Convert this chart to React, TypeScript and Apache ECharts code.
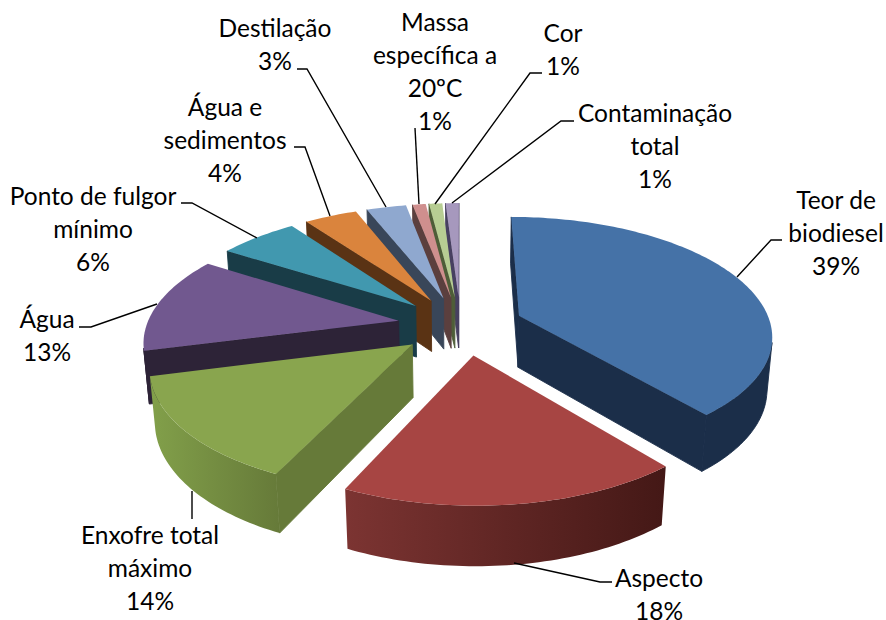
import React, { useEffect, useRef } from "react";
import * as echarts from "echarts";

const categories = [
  "Teor de\nbiodiesel",
  "Aspecto",
  "Enxofre total\nmáximo",
  "Água",
  "Ponto de fulgor\nmínimo",
  "Água e\nsedimentos",
  "Destilação",
  "Massa\nespecífica a\n20ºC",
  "Cor",
  "Contaminação\ntotal",
];
const values = [39, 18, 14, 13, 6, 4, 3, 1, 1, 1];

// [top, radial wall, outer wall left, outer wall right]
const palette = [
  ["#4572A7", "#1B2E49", "#1B2E49", "#1B2E49"],
  ["#A74543", "#4A1B19", "#7C3432", "#441816"],
  ["#89A54E", "#667A39", "#82A04A", "#667A39"],
  ["#71588F", "#2D2337", "#2D2337", "#2D2337"],
  ["#4198AF", "#193C47", "#193C47", "#193C47"],
  ["#DA843D", "#5A3314", "#5A3314", "#5A3314"],
  ["#8FA8CF", "#394659", "#394659", "#394659"],
  ["#CF8F8E", "#5B3F3E", "#5B3F3E", "#5B3F3E"],
  ["#B7CD93", "#4E5D38", "#4E5D38", "#4E5D38"],
  ["#A698BD", "#474060", "#474060", "#474060"],
];

// label centre x, first-line centre y
const labelPlacement = [
  [836, 200], [659, 578], [150, 535], [47, 319], [93, 196],
  [225, 107], [275, 28], [435, 22], [563, 33], [655, 113],
];
const leaderLines = [
  [[782, 240], [771, 240], [737, 277]],
  [[612, 582], [600, 582], [514, 563]],
  [[192, 519], [192, 491]],
  [[79, 327], [91, 327], [157, 304]],
  [[181, 203], [192, 203], [257, 238]],
  [[294, 147], [305, 147], [330, 216]],
  [[297, 69], [307, 69], [386, 207]],
  [[415, 128], [419, 204]],
  [[542, 73], [530, 73], [435, 204]],
  [[574, 121], [561, 121], [452, 203]],
];

// projection of the pie's plane
const CX = 460.5, CY = 325.4, SX = 252, SY = 116.7, PERSP = 0.154, EXPLODE = 0.25, HEIGHT = 53, PERSP_Z = 0.017;
// small extra sideways shift of a slice in the pie's plane
const sliceShiftU = [0, 0.018, 0.006, 0, 0, 0, 0, 0, 0, 0];
const LINE_HEIGHT = 32.7;
const FONT = "Lato, Carlito, sans-serif";
const FONT_SIZE = 24.5;

const project = (u: number, v: number, z: number): number[] => {
  const w = 1 + PERSP * v + PERSP_Z * z;
  return [CX + (SX * u) / w, CY - (SY * v - HEIGHT * z) / w];
};
const area = (pts: number[][]) => {
  let s = 0;
  pts.forEach((p, i) => {
    const q = pts[(i + 1) % pts.length];
    s += p[0] * q[1] - q[0] * p[1];
  });
  return s / 2;
};

const total = values.reduce((a, b) => a + b, 0);
const starts: number[] = [];
values.reduce((acc, v, i) => {
  starts[i] = acc;
  return acc + v;
}, 0);
const drawRank = values
  .map((v, i) => ({ i, c: Math.cos(((starts[i] + v / 2) / total) * 2 * Math.PI) }))
  .sort((a, b) => b.c - a.c)
  .reduce((m: number[], e, r) => {
    m[e.i] = r;
    return m;
  }, []);

const renderSlice = (params: any, api: any) => {
  const i = params.dataIndex;
  const v = api.value(0) as number;
  const a0 = (starts[i] / total) * 2 * Math.PI;
  const a1 = ((starts[i] + v) / total) * 2 * Math.PI;
  const mid = (a0 + a1) / 2;
  const u0 = EXPLODE * Math.sin(mid) + sliceShiftU[i];
  const v0 = EXPLODE * Math.cos(mid);
  const z2 = 10 * (drawRank[i] + 1);
  const [top, radial, wallL, wallR] = palette[i];
  const steps = Math.max(6, Math.round(v * 3));
  const pt = (a: number, z: number) => project(u0 + Math.sin(a), v0 + Math.cos(a), z);
  const arcAngles = Array.from({ length: steps + 1 }, (_, k) => a0 + ((a1 - a0) * k) / steps);
  const apexT = project(u0, v0, 0);
  const apexB = project(u0, v0, 1);
  const topPts = [apexT, ...arcAngles.map((a) => pt(a, 0))];
  const topSign = Math.sign(area(topPts));
  const children: any[] = [];
  const face = (pts: number[][], fill: any, stroke: string | undefined, z: number) =>
    children.push({
      type: "polygon",
      shape: { points: pts },
      style: stroke ? { fill, stroke, lineWidth: 0.9 } : { fill },
      z2: z,
    });

  // outer wall
  let run: number[] = [];
  const flush = () => {
    if (!run.length) return;
    const as = [...run, run[run.length - 1] + (a1 - a0) / steps];
    const pts = [...as.map((a) => pt(a, 0)), ...as.slice().reverse().map((a) => pt(a, 1))];
    if (wallL === wallR) {
      face(pts, wallL, wallL, z2);
    } else {
      const fill = new echarts.graphic.LinearGradient(0, 0, 1, 0, [
        { offset: 0, color: wallL },
        { offset: 1, color: wallR },
      ]);
      face(pts, fill, undefined, z2);
    }
    run = [];
  };
  for (let k = 0; k < steps; k++) {
    const a = arcAngles[k];
    const b = arcAngles[k + 1];
    const q = [pt(a, 0), pt(b, 0), pt(b, 1), pt(a, 1)];
    if (Math.sign(area(q)) !== topSign) run.push(a);
    else flush();
  }
  flush();

  // radial walls, only when they face the viewer
  const wallA = [apexT, pt(a0, 0), pt(a0, 1), apexB];
  if (Math.sign(area(wallA)) !== topSign) face(wallA, radial, radial, z2 + 1);
  const wallB = [pt(a1, 0), apexT, apexB, pt(a1, 1)];
  if (Math.sign(area(wallB)) !== topSign) face(wallB, radial, radial, z2 + 1);

  children.push({ type: "polygon", shape: { points: topPts }, style: { fill: top }, z2: z2 + 2 });

  // leader line and label
  children.push({
    type: "polyline",
    shape: { points: leaderLines[i] },
    style: { stroke: "#000000", lineWidth: 1.4, fill: "none" },
    z2: 500,
  });
  const [lx, ly] = labelPlacement[i];
  const text = `${categories[i]}\n${v}%`;
  children.push({
    type: "text",
    x: lx,
    y: ly - LINE_HEIGHT / 2,
    style: {
      text,
      fill: "#000000",
      font: `${FONT_SIZE}px ${FONT}`,
      fontSize: FONT_SIZE,
      fontFamily: FONT,
      lineHeight: LINE_HEIGHT,
      align: "center",
      verticalAlign: "top",
    },
    z2: 501,
  });
  return { type: "group", children };
};

export default function App() {
  const ref = useRef<HTMLDivElement>(null);
  useEffect(() => {
    const chart = echarts.init(ref.current!, undefined, { renderer: "svg" });
    chart.setOption({
      animation: false,
      backgroundColor: "#ffffff",
      series: [
        {
          type: "custom",
          coordinateSystem: "none",
          renderItem: renderSlice,
          data: values.map((v, i) => ({ name: categories[i], value: [v] })),
          silent: true,
          clip: false,
        },
      ],
    });
    return () => chart.dispose();
  }, []);
  return <div ref={ref} style={{ position: "absolute", left: 0, top: 0, width: 886, height: 620 }} />;
}
